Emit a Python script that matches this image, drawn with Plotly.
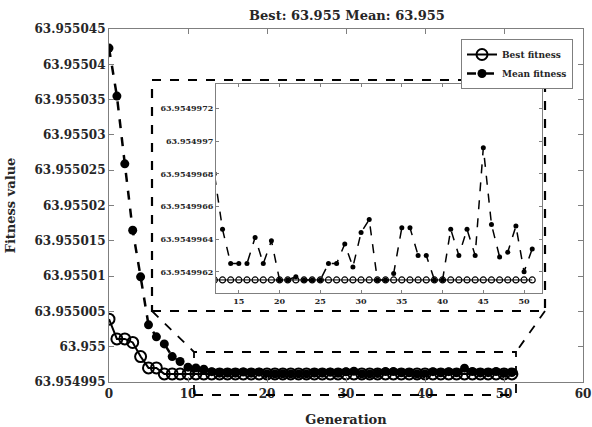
import plotly.graph_objects as go

generations = list(range(52))

best_fitness = [
    63.9550039, 63.9550011, 63.9550011, 63.9550006, 63.9549986, 63.9549970,
    63.9549970, 63.95499615, 63.95499615, 63.95499615, 63.95499615, 63.95499615,
    63.95499615, 63.95499615, 63.95499615, 63.95499615, 63.95499615, 63.95499615,
    63.95499615, 63.95499615, 63.95499615, 63.95499615, 63.95499615, 63.95499615,
    63.95499615, 63.95499615, 63.95499615, 63.95499615, 63.95499615, 63.95499615,
    63.95499615, 63.95499615, 63.95499615, 63.95499615, 63.95499615, 63.95499615,
    63.95499615, 63.95499615, 63.95499615, 63.95499615, 63.95499615, 63.95499615,
    63.95499615, 63.95499615, 63.95499615, 63.95499615, 63.95499615, 63.95499615,
    63.95499615, 63.95499615, 63.95499615, 63.95499615,
]

mean_fitness = [
    63.9550423, 63.9550355, 63.9550259, 63.9550165, 63.9550099, 63.9550031,
    63.9550014, 63.9550004, 63.9549986, 63.9549979, 63.9549971, 63.9549970,
    63.9549968, 63.95499646, 63.95499625, 63.95499625, 63.95499625, 63.95499641,
    63.95499625, 63.95499639, 63.95499615, 63.95499615, 63.95499617, 63.95499615,
    63.95499615, 63.95499615, 63.95499625, 63.95499625, 63.95499637, 63.95499623,
    63.95499644, 63.95499652, 63.95499615, 63.95499615, 63.95499619, 63.95499647,
    63.95499647, 63.95499630, 63.95499630, 63.95499615, 63.95499615, 63.95499646,
    63.95499630, 63.95499646, 63.95499630, 63.95499696, 63.95499649, 63.95499629,
    63.95499632, 63.95499648, 63.95499620, 63.95499634,
]

main_y_ticks = [63.954995, 63.955, 63.955005, 63.95501, 63.955015, 63.95502,
                63.955025, 63.95503, 63.955035, 63.95504, 63.955045]
main_y_labels = ["63.954995", "63.955", "63.955005", "63.95501", "63.955015", "63.95502",
                 "63.955025", "63.95503", "63.955035", "63.95504", "63.955045"]
main_x_ticks = [0, 10, 20, 30, 40, 50, 60]

inset_y_ticks = [63.9549962, 63.9549964, 63.9549966, 63.9549968, 63.954997, 63.9549972]
inset_y_labels = ["63.9549962", "63.9549964", "63.9549966", "63.9549968", "63.954997", "63.9549972"]
inset_x_ticks = [15, 20, 25, 30, 35, 40, 45, 50]

W, H = 592, 427
L, R, T, B = 109, 583, 29, 382


def px(xp):
    return (xp - L) / (R - L)


def py(yp):
    return (B - yp) / (B - T)


FONT = "DejaVu Serif"
TXT = "#262626"
AX = "#7f7f7f"

fig = go.Figure()

fig.add_trace(go.Scatter(
    x=generations, y=best_fitness, name="<b>Best fitness</b>", mode="lines+markers",
    line=dict(color="black", width=2),
    marker=dict(symbol="circle-open", size=11, color="black", line=dict(width=2)),
    xaxis="x", yaxis="y",
))
fig.add_trace(go.Scatter(
    x=generations, y=mean_fitness, name="<b>Mean fitness</b>", mode="lines+markers",
    line=dict(color="black", width=2.5, dash="dash"),
    marker=dict(symbol="circle", size=9, color="black"),
    xaxis="x", yaxis="y",
))
fig.add_trace(go.Scatter(
    x=generations, y=best_fitness, mode="lines+markers", showlegend=False,
    line=dict(color="black", width=1),
    marker=dict(symbol="circle-open", size=6, color="black", line=dict(width=1.2)),
    xaxis="x2", yaxis="y2",
))
fig.add_trace(go.Scatter(
    x=generations, y=mean_fitness, mode="lines+markers", showlegend=False,
    line=dict(color="black", width=1.5, dash="dash"),
    marker=dict(symbol="circle", size=5, color="black"),
    xaxis="x2", yaxis="y2",
))

axis_common = dict(showline=True, linecolor=AX, linewidth=1.2, mirror="ticks",
                   ticks="inside", tickcolor=AX, showgrid=False, zeroline=False,
                   automargin=False)

fig.update_layout(
    width=W, height=H,
    margin=dict(l=L, r=W - R, t=T, b=H - B, autoexpand=False),
    paper_bgcolor="white", plot_bgcolor="white",
    font=dict(family=FONT, color=TXT),
    title=dict(text="<b>Best: 63.955 Mean: 63.955</b>", x=px(347), xref="paper",
               y=1 - 15 / H, yref="container", xanchor="center", yanchor="middle",
               font=dict(size=13, family=FONT, color=TXT)),
    xaxis=dict(range=[0, 60], tickvals=main_x_ticks, ticktext=[f"<b>{t}</b>" for t in main_x_ticks],
               ticklen=5, tickfont=dict(size=12, family=FONT, color=TXT),
               title=dict(text="<b>Generation</b>", font=dict(size=13, family=FONT, color=TXT)),
               **axis_common),
    yaxis=dict(range=[63.954995, 63.955045], tickvals=main_y_ticks,
               ticktext=[f"<b>{t}</b>" for t in main_y_labels],
               ticklen=5, tickfont=dict(size=12, family=FONT, color=TXT),
               title=dict(text="<b>Fitness value</b>", font=dict(size=13, family=FONT, color=TXT)),
               **axis_common),
    xaxis2=dict(domain=[px(216), px(542)], anchor="y2", range=[12.2, 52.2], tickvals=inset_x_ticks,
                ticktext=[f"<b>{t}</b>" for t in inset_x_ticks],
                ticklen=3, tickfont=dict(size=8, family=FONT, color=TXT), **axis_common),
    yaxis2=dict(domain=[py(293), py(84)], anchor="x2", range=[63.95499607, 63.95499735],
                tickvals=inset_y_ticks, ticktext=[f"<b>{t}</b>" for t in inset_y_labels],
                ticklen=3, tickfont=dict(size=8, family=FONT, color=TXT), **axis_common),
    legend=dict(x=px(573), y=py(39), xanchor="right", yanchor="top",
                bgcolor="white", bordercolor=AX, borderwidth=1,
                font=dict(size=9, family=FONT, color=TXT), itemwidth=30,
                tracegroupgap=0),
    showlegend=True,
    hovermode=False,
)

thin_dash = dict(color="black", width=1.8, dash="dash")
shapes = [
    # dashed frame around inset
    dict(type="rect", xref="paper", yref="paper", x0=px(152), x1=px(545), y0=py(311), y1=py(80),
         line=dict(color="black", width=2.2, dash="dash")),
    # zoom region rectangle
    dict(type="rect", xref="paper", yref="paper", x0=px(194), x1=px(516), y0=py(395), y1=py(352),
         line=thin_dash),
    # connectors
    dict(type="line", xref="paper", yref="paper", x0=px(152), y0=py(311), x1=px(194), y1=py(352),
         line=thin_dash),
    dict(type="line", xref="paper", yref="paper", x0=px(545), y0=py(311), x1=px(516), y1=py(352),
         line=thin_dash),
]
fig.update_layout(shapes=shapes)

fig.write_html(
    "out.html",
    config={"displayModeBar": False},
    post_script="document.body.style.margin='0';document.body.style.overflow='hidden';",
)
